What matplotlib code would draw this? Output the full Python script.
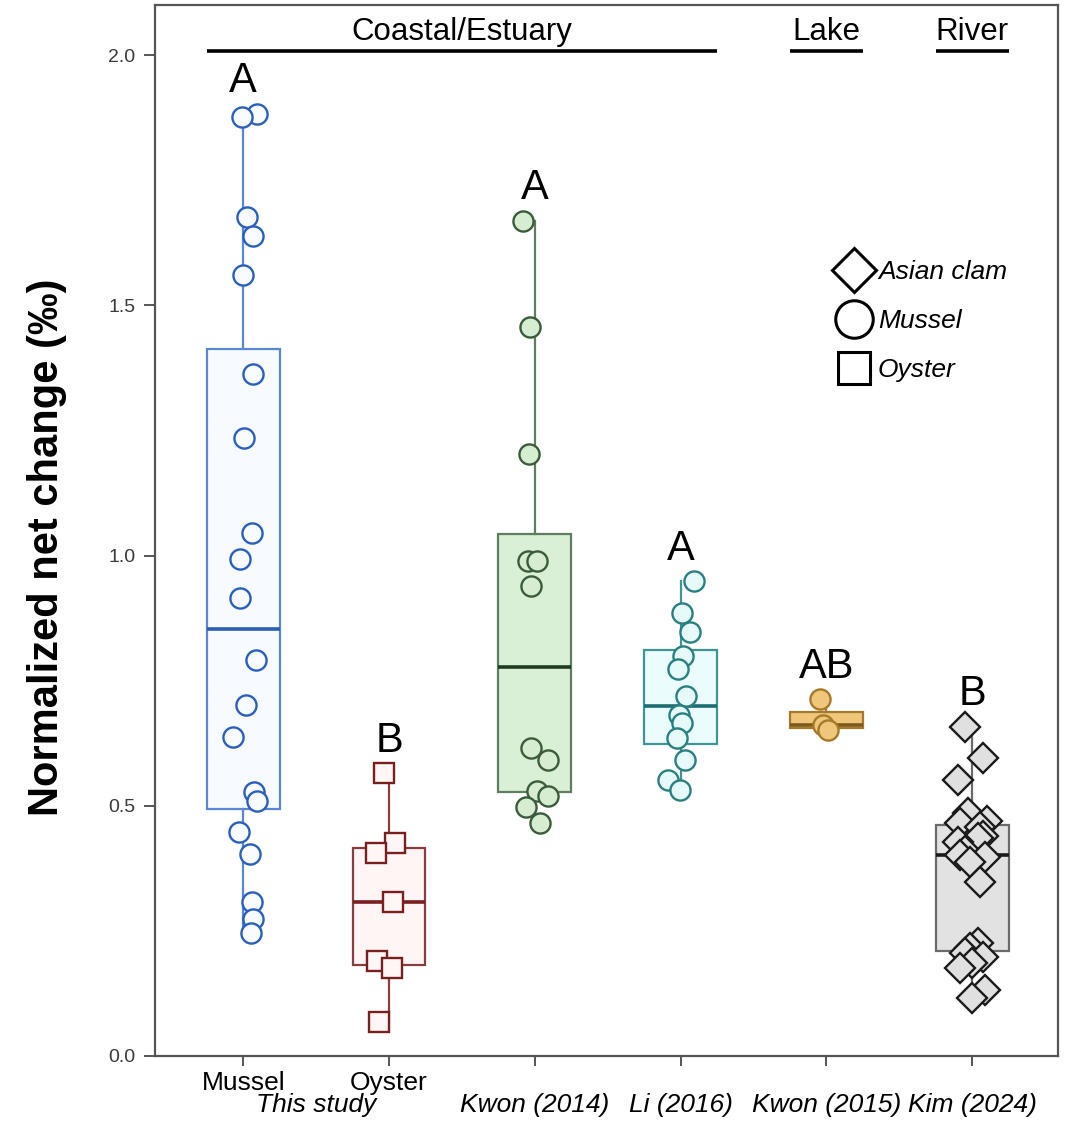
import matplotlib
matplotlib.use("Agg")
import matplotlib.pyplot as plt
from matplotlib.lines import Line2D
from matplotlib.transforms import blended_transform_factory

plt.rcParams['font.family'] = ['Liberation Sans', 'DejaVu Sans']

# ---------------- data ----------------
categories = ["Mussel", "Oyster", "Kwon (2014)", "Li (2016)", "Kwon (2015)", "Kim (2024)"]
row1_labels = ["Mussel", "Oyster", "", "", "", ""]
source_labels = ["This study", "Kwon (2014)", "Li (2016)", "Kwon (2015)", "Kim (2024)"]
source_label_pos = [0.5, 2, 3, 4, 5]
letters = ["A", "B", "A", "A", "AB", "B"]
habitats = ["Coastal/Estuary", "Lake", "River"]
habitat_first = [0, 4, 5]
habitat_last = [3, 4, 5]
species = ["Mussel", "Oyster", "Mussel", "Mussel", "Mussel", "Asian clam"]

mussel_vals = [1.883, 1.876, 1.676, 1.639, 1.560, 1.363, 1.235, 1.046, 0.994, 0.916,
               0.791, 0.701, 0.637, 0.527, 0.510, 0.447, 0.404, 0.308, 0.274, 0.245]
mussel_jit = [0.096, -0.011, 0.023, 0.068, -0.004, 0.068, 0.003, 0.060, -0.020, -0.023,
              0.087, 0.016, -0.073, 0.075, 0.092, -0.030, 0.046, 0.062, 0.068, 0.053]

oyster_vals = [0.565, 0.426, 0.406, 0.308, 0.190, 0.175, 0.067]
oyster_jit = [-0.034, 0.041, -0.091, 0.029, -0.082, 0.021, -0.068]

kwon2014_vals = [1.669, 1.457, 1.203, 0.990, 0.990, 0.939, 0.616, 0.591, 0.530, 0.520, 0.498, 0.466]
kwon2014_jit = [-0.080, -0.034, -0.041, -0.046, 0.018, -0.023, -0.023, 0.087, 0.012, 0.091, -0.062, 0.034]

li2016_vals = [0.949, 0.885, 0.848, 0.799, 0.773, 0.719, 0.681, 0.665, 0.635, 0.591, 0.551, 0.531]
li2016_jit = [0.091, 0.012, 0.064, 0.018, -0.018, 0.039, -0.012, 0.012, -0.023, 0.027, -0.084, -0.007]

kwon2015_vals = [0.713, 0.661, 0.651]
kwon2015_jit = [-0.041, -0.023, 0.011]

kim2024_vals = [0.658, 0.595, 0.551, 0.485, 0.470, 0.466, 0.458, 0.440, 0.435, 0.428, 0.410, 0.402,
                0.398, 0.388, 0.348, 0.225, 0.215, 0.205, 0.198, 0.185, 0.175, 0.132, 0.115]
kim2024_jit = [-0.050, 0.075, -0.096, -0.027, 0.099, -0.084, 0.053, 0.075, 0.040, -0.096, -0.050, -0.084,
               0.087, -0.016, 0.053, 0.041, -0.016, -0.050, 0.075, 0.000, -0.084, 0.087, -0.004]

all_vals = [mussel_vals, oyster_vals, kwon2014_vals, li2016_vals, kwon2015_vals, kim2024_vals]
all_jit = [mussel_jit, oyster_jit, kwon2014_jit, li2016_jit, kwon2015_jit, kim2024_jit]

# ---------------- styles ----------------
box_face = ["#f7faff", "#fff5f5", "#d9efd6", "#ebfcfc", "#efc67a", "#e2e2e2"]
box_edge = ["#5a87d3", "#8c3c3c", "#5f7d5f", "#3f9494", "#a57a2c", "#6a6a6a"]
median_col = ["#2a5cb8", "#7a1e1e", "#1f3b1f", "#1d6e72", "#7d5a1c", "#1a1a1a"]
pt_face = ["#f8fbff", "#fff6f6", "#d6edd2", "#e6fafa", "#efc67a", "#e0e0e0"]
pt_edge = ["#2a5fc0", "#7a1f1f", "#3b5c3b", "#2a7f80", "#a57a2c", "#1a1a1a"]
marker_of = {"Mussel": "o", "Oyster": "s", "Asian clam": "D"}
size_of = {"o": 14.5, "s": 14.5, "D": 15.5}

fig = plt.figure(figsize=(10.75, 11.21), dpi=100)
ax = fig.add_axes([0.1442, 0.058, 0.9842 - 0.1442, 0.9955 - 0.058])

positions = list(range(len(categories)))
for i, vals in enumerate(all_vals):
    ax.boxplot([vals], positions=[i], widths=0.5, whis=(0, 100), showcaps=False,
               showfliers=False, patch_artist=True, manage_ticks=False,
               boxprops=dict(facecolor=box_face[i], edgecolor=box_edge[i], linewidth=1.6),
               whiskerprops=dict(color=box_edge[i], linewidth=1.6),
               medianprops=dict(color=median_col[i], linewidth=2.6),
               zorder=2)
    m = marker_of[species[i]]
    xs = [i + j for j in all_jit[i]]
    ax.plot(xs, vals, ls="none", marker=m, ms=size_of[m], mfc=pt_face[i], mec=pt_edge[i],
            mew=1.7, zorder=3)
    ax.text(i, max(vals) + 0.043, letters[i], ha="center", va="baseline", fontsize=30,
            color="black", zorder=4)

# habitat headers
for name, a, b in zip(habitats, habitat_first, habitat_last):
    ax.plot([a - 0.25, b + 0.25], [2.008, 2.008], color="black", lw=2.6,
            solid_capstyle="butt", zorder=4)
    ax.text((a + b) / 2, 2.03, name, ha="center", va="baseline", fontsize=22.5, color="black")

ax.set_xlim(-0.605, 5.588)
ax.set_ylim(0, 2.1)
ax.set_yticks([0.0, 0.5, 1.0, 1.5, 2.0])
ax.set_yticklabels(["0.0", "0.5", "1.0", "1.5", "2.0"])
ax.set_xticks(positions)
ax.set_xticklabels(row1_labels, fontsize=19)
ax.tick_params(axis="y", labelsize=14, colors="#555555", length=8, width=1.4, pad=6)
ax.tick_params(axis="x", length=7, width=1.4, colors="#555555", labelcolor="black", pad=4)
for lab in ax.get_yticklabels():
    lab.set_color("#3a3a3a")
for sp in ax.spines.values():
    sp.set_color("#555555")
    sp.set_linewidth(1.6)

trans = blended_transform_factory(ax.transData, ax.transAxes)
for lab, x in zip(source_labels, source_label_pos):
    ax.text(x, -0.0465, lab, transform=trans, ha="center", va="center", fontsize=19,
            style="italic", color="black")

ax.set_ylabel("Normalized net change (‰)", fontsize=30, fontweight="bold")
ax.yaxis.set_label_coords(-0.098, 0.484)

handles = [Line2D([], [], ls="none", marker="D", ms=22, mfc="white", mec="black", mew=2.2),
           Line2D([], [], ls="none", marker="o", ms=27, mfc="white", mec="black", mew=2.2),
           Line2D([], [], ls="none", marker="s", ms=23, mfc="white", mec="black", mew=2.2)]
ax.legend(handles, ["Asian clam", "Mussel", "Oyster"], loc="center",
          bbox_to_anchor=(0.847, 0.699), frameon=False,
          prop={"style": "italic", "size": 19}, handletextpad=0.12, labelspacing=0.95,
          handlelength=1.6, borderaxespad=0)

fig.savefig("out.png", dpi=100)
